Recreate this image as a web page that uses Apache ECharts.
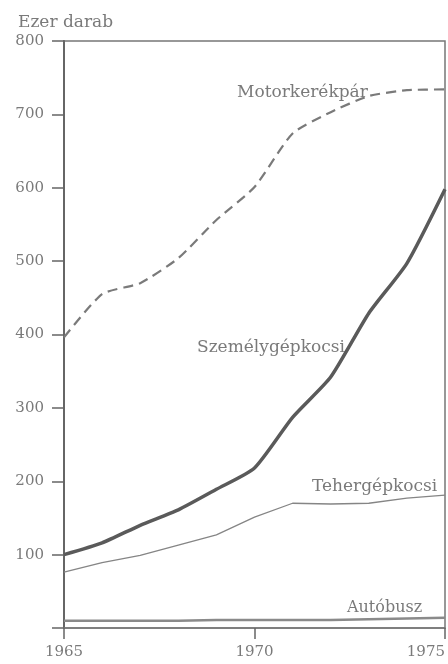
<!DOCTYPE html>
<html>
<head>
<meta charset="utf-8">
<script src="https://cdn.jsdelivr.net/npm/echarts@6/dist/echarts.min.js"></script>
<style>
html,body{margin:0;padding:0;background:#fff;}
#chart{width:448px;height:664px;}
</style>
</head>
<body>
<div id="chart"></div>
<script>
var years = [1965,1966,1967,1968,1969,1970,1971,1972,1973,1974,1975];
var motorkerekpar = [396,455,470,504,556,601,674,703,725,733,734];
var szemelygepkocsi = [100,116,140,161,189,218,287,342,429,497,598];
var tehergepkocsi = [76,89,99,113,127,151,170,169,170,177,181];
var autobusz = [10,10,10,10,11,11,11,11,12,13,14];
var yTicks = [0,100,200,300,400,500,600,700,800];
var xTicks = [1965,1970,1975];
var seriesNames = ['Motorkerékpár','Személygépkocsi','Tehergépkocsi','Autóbusz'];

function pairs(arr){ return years.map(function(y,i){ return [y, arr[i]]; }); }

var font = '"DejaVu Serif", "Liberation Serif", serif';
var textColor = '#7a7a7a';
var chart = echarts.init(document.getElementById('chart'));
function lbl(text, x, y, size){
  return {type:'text',x:x,y:y,style:{text:text,fill:textColor,font:size+'px '+font,align:'left',verticalAlign:'middle'}};
}
chart.setOption({
  animation:false,
  backgroundColor:'#fff',
  grid:{left:64,right:2,top:41,bottom:36,show:true,borderColor:'#777',borderWidth:1.5,backgroundColor:'transparent'},
  xAxis:{
    type:'value',min:xTicks[0],max:xTicks[xTicks.length-1],interval:5,
    axisLine:{show:true,lineStyle:{color:'#777',width:1.5}},
    axisTick:{show:true,inside:false,length:11,lineStyle:{color:'#666',width:1.5}},
    axisLabel:{margin:17,color:textColor,fontFamily:font,fontSize:15,alignMinLabel:'center',alignMaxLabel:'right',formatter:function(v){return String(v);}},
    splitLine:{show:false}
  },
  yAxis:{
    type:'value',min:yTicks[0],max:yTicks[yTicks.length-1],interval:100,
    name:'Ezer darab',nameLocation:'end',nameGap:10,
    nameTextStyle:{color:textColor,fontFamily:font,fontSize:17,align:'left',padding:[0,0,0,-46]},
    axisLine:{show:true,lineStyle:{color:'#666',width:2}},
    axisTick:{show:true,inside:false,length:12,lineStyle:{color:'#666',width:1.5}},
    axisLabel:{margin:20,color:textColor,fontFamily:font,fontSize:15,formatter:function(v){return v===0?'':String(v);}},
    splitLine:{show:false}
  },
  series:[
    {name:seriesNames[0],type:'line',data:pairs(motorkerekpar),symbol:'none',smooth:0.2,
     lineStyle:{color:'#7a7a7a',width:2.2,type:[10,6]}},
    {name:seriesNames[1],type:'line',data:pairs(szemelygepkocsi),symbol:'none',smooth:0.2,
     lineStyle:{color:'#5a5a5a',width:3.5}},
    {name:seriesNames[2],type:'line',data:pairs(tehergepkocsi),symbol:'none',
     lineStyle:{color:'#858585',width:1.3}},
    {name:seriesNames[3],type:'line',data:pairs(autobusz),symbol:'none',
     lineStyle:{color:'#8a8a8a',width:2.5}}
  ],
  graphic:[
    lbl(seriesNames[0],237,93,17),
    lbl(seriesNames[1],197,348,17),
    lbl(seriesNames[2],312,487,17),
    lbl(seriesNames[3],347,608,16)
  ]
});
</script>
</body>
</html>
